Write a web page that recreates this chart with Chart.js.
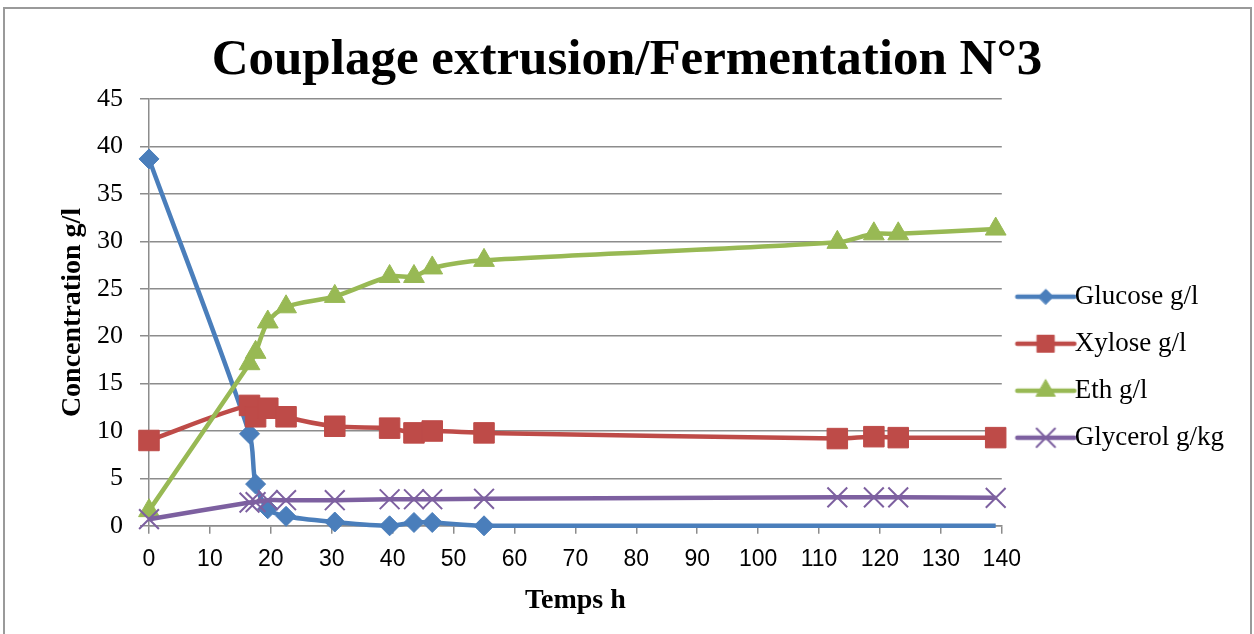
<!DOCTYPE html>
<html>
<head>
<meta charset="utf-8">
<script src="https://cdn.jsdelivr.net/npm/chart.js@4.4.1/dist/chart.umd.min.js"></script>
<style>
  html, body { margin: 0; padding: 0; background: #fff; overflow: hidden; }
  #wrap { position: relative; width: 1254px; height: 634px; }
  #frame {
    position: absolute; left: 3px; top: 7px; width: 1249px; height: 700px;
    border: 2px solid #9a9a9a; box-sizing: border-box; pointer-events: none;
  }
</style>
</head>
<body>
<div id="wrap">
  <canvas id="fermentation-chart"></canvas>
  <div id="frame"></div>
</div>
<script>
// sampling times (h)
const hours = [0, 16.5, 17.5, 19.5, 22.5, 30.5, 39.5, 43.5, 46.5, 55, 113, 119, 123, 139];

const glucose = [38.7, 9.7, 4.4, 1.8, 1.0, 0.4, 0.0, 0.35, 0.35, 0.0, 0, 0, 0, 0];
const xylose = [9.0, 12.7, 11.5, 12.4, 11.5, 10.5, 10.3, 9.8, 10.0, 9.8, 9.2, 9.4, 9.3, 9.3];
const eth = [1.6, 17.1, 18.3, 21.5, 23.1, 24.2, 26.3, 26.3, 27.2, 28.0, 29.9, 30.8, 30.8, 31.3];
const glycerol = [0.7, 2.45, 2.5, 2.7, 2.7, 2.7, 2.8, 2.8, 2.8, 2.85, 3.0, 3.0, 3.0, 2.95];

const seriesLabels = ["Glucose g/l", "Xylose g/l", "Eth g/l", "Glycerol g/kg"];
const xTicks = [0, 140, 10];
const yTicks = [0, 45, 5];

const colors = ["#4a7ebb", "#be4b48", "#98b954", "#7d60a0"];
const serif = "'Liberation Serif', 'Times New Roman', serif";
const sans = "'Liberation Sans', Arial, sans-serif";

function toPoints(values) {
  return values.map((v, i) => ({ x: hours[i], y: v }));
}

// legend icon: line with marker in the middle
function legendIcon(color, style, radius, borderWidth) {
  const c = document.createElement("canvas");
  c.width = 130;
  c.height = 40;
  const ctx = c.getContext("2d");
  const y = 20;
  const a = 40.75;
  ctx.strokeStyle = color;
  ctx.lineWidth = 4.5;
  ctx.lineCap = "round";
  ctx.beginPath();
  ctx.moveTo(a, y);
  ctx.lineTo(a + 57, y);
  ctx.stroke();
  ctx.fillStyle = color;
  ctx.strokeStyle = color;
  ctx.lineWidth = borderWidth;
  Chart.helpers.drawPoint(ctx, { pointStyle: style, radius: radius, rotation: 0, borderWidth: borderWidth }, a + 28.5, y);
  return c;
}

function series(label, values, color, style, radius, bw, order) {
  return {
    label: label,
    data: toPoints(values),
    borderColor: color,
    backgroundColor: color,
    borderWidth: 4.5,
    tension: 0.3,
    pointStyle: style,
    pointRadius: radius,
    pointHoverRadius: radius,
    pointBorderWidth: bw,
    pointBackgroundColor: color,
    pointBorderColor: color,
    clip: false,
    order: order,
  };
}

const datasets = [
  series(seriesLabels[0], glucose, colors[0], "rectRot", hours.map((h) => (h > 60 ? 0 : 10)), 1, 4),
  series(seriesLabels[1], xylose, colors[1], "rect", 14.5, 1, 3),
  series(seriesLabels[2], eth, colors[2], "triangle", 12, 1, 2),
  series(seriesLabels[3], glycerol, colors[3], "crossRot", 14, 2, 1),
];

const icons = [
  legendIcon(colors[0], "rectRot", 7.5, 1),
  legendIcon(colors[1], "rect", 12, 1),
  legendIcon(colors[2], "triangle", 11, 1),
  legendIcon(colors[3], "crossRot", 13, 2),
];

const gridColor = "#8c8c8c";

const config = {
  type: "line",
  data: { datasets: datasets },
  options: {
    responsive: true,
    maintainAspectRatio: false,
    animation: false,
    layout: {
      padding: { left: 20, right: 20, top: 0, bottom: 10 },
    },
    plugins: {
      title: {
        display: true,
        text: "Couplage extrusion/Fermentation N°3",
        color: "#000",
        font: { family: serif, size: 51, weight: "bold", lineHeight: 1.2 },
        padding: { top: 30, bottom: 8 },
      },
      legend: {
        position: "right",
        title: { display: true, text: "", padding: { top: 96, bottom: 0 } },
        labels: {
          color: "#000",
          font: { family: serif, size: 27, lineHeight: 1.2 },
          usePointStyle: true,
          pointStyleWidth: 39.5,
          padding: 20,
          generateLabels: (chart) =>
            chart.data.datasets.map((ds, i) => ({
              text: ds.label,
              datasetIndex: i,
              pointStyle: icons[i],
              fillStyle: ds.borderColor,
              strokeStyle: ds.borderColor,
              fontColor: "#000",
              lineWidth: 0,
              hidden: false,
            })),
        },
      },
      tooltip: { enabled: false },
    },
    scales: {
      x: {
        type: "linear",
        min: xTicks[0],
        max: xTicks[1],
        ticks: {
          stepSize: xTicks[2],
          color: "#000",
          font: { family: sans, size: 23 },
          padding: 12,
          maxRotation: 0,
        },
        grid: {
          drawOnChartArea: false,
          drawTicks: true,
          tickLength: 8,
          color: gridColor,
          lineWidth: 1.5,
        },
        border: { color: gridColor, width: 1.5 },
        title: {
          display: true,
          text: "Temps h",
          color: "#000",
          font: { family: serif, size: 28, weight: "bold", lineHeight: 1.2 },
          padding: { top: -1, bottom: 6 },
        },
      },
      y: {
        min: yTicks[0],
        max: yTicks[1],
        ticks: {
          stepSize: yTicks[2],
          color: "#000",
          font: { family: serif, size: 26 },
          padding: 17,
        },
        grid: {
          color: gridColor,
          lineWidth: 1.5,
          tickLength: 9,
        },
        border: { color: gridColor, width: 1.5 },
        title: {
          display: true,
          text: "Concentration g/l",
          color: "#000",
          font: { family: serif, size: 28, weight: "bold", lineHeight: 1.0 },
          padding: { top: 39, bottom: -7 },
        },
      },
    },
  },
};

const fermentationChart = new Chart(document.getElementById("fermentation-chart"), config);
</script>
</body>
</html>
